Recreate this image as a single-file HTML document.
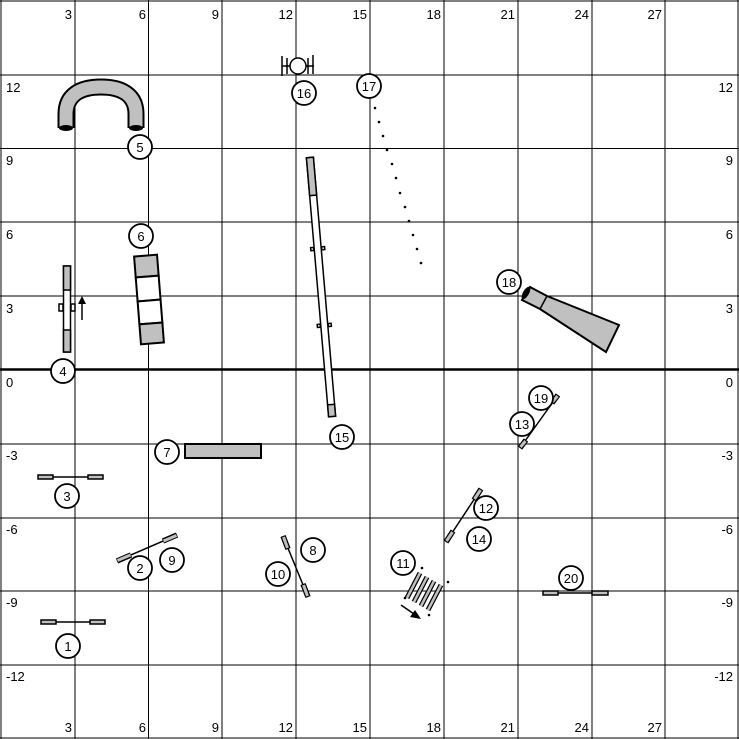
<!DOCTYPE html>
<html><head><meta charset="utf-8"><style>
html,body{margin:0;padding:0;background:#fff;}
svg{display:block;font-family:"Liberation Sans",sans-serif;}
</style></head><body>
<svg width="739" height="739" viewBox="0 0 739 739" xmlns="http://www.w3.org/2000/svg">
<rect x="0" y="0" width="739" height="739" fill="#fff"/>
<g stroke="#000" stroke-width="1">
<line x1="1" y1="0" x2="1" y2="739"/><line x1="75" y1="0" x2="75" y2="739"/><line x1="148.5" y1="0" x2="148.5" y2="739"/><line x1="222" y1="0" x2="222" y2="739"/><line x1="296" y1="0" x2="296" y2="739"/><line x1="370" y1="0" x2="370" y2="739"/><line x1="444" y1="0" x2="444" y2="739"/><line x1="518" y1="0" x2="518" y2="739"/><line x1="592" y1="0" x2="592" y2="739"/><line x1="665" y1="0" x2="665" y2="739"/><line x1="738" y1="0" x2="738" y2="739"/>
<line x1="0" y1="1" x2="739" y2="1"/><line x1="0" y1="75" x2="739" y2="75"/><line x1="0" y1="148.5" x2="739" y2="148.5"/><line x1="0" y1="222" x2="739" y2="222"/><line x1="0" y1="296" x2="739" y2="296"/><line x1="0" y1="444" x2="739" y2="444"/><line x1="0" y1="518" x2="739" y2="518"/><line x1="0" y1="591" x2="739" y2="591"/><line x1="0" y1="665" x2="739" y2="665"/><line x1="0" y1="738" x2="739" y2="738"/>
</g>
<line x1="0" y1="369.5" x2="739" y2="369.5" stroke="#000" stroke-width="2.5"/>
<g font-size="13" fill="#000" text-anchor="end">
<text x="72" y="19">3</text><text x="146" y="19">6</text><text x="219" y="19">9</text><text x="293" y="19">12</text><text x="367" y="19">15</text><text x="441" y="19">18</text><text x="515" y="19">21</text><text x="589" y="19">24</text><text x="662" y="19">27</text>
<text x="72" y="732">3</text><text x="146" y="732">6</text><text x="219" y="732">9</text><text x="293" y="732">12</text><text x="367" y="732">15</text><text x="441" y="732">18</text><text x="515" y="732">21</text><text x="589" y="732">24</text><text x="662" y="732">27</text>
</g>
<g font-size="13" fill="#000">
<text x="6" y="92">12</text><text x="6" y="165">9</text><text x="6" y="239">6</text><text x="6" y="313">3</text><text x="6" y="387">0</text><text x="6" y="460">-3</text><text x="6" y="534">-6</text><text x="6" y="607">-9</text><text x="6" y="681">-12</text>
</g>
<g font-size="13" fill="#000" text-anchor="end">
<text x="733" y="92">12</text><text x="733" y="165">9</text><text x="733" y="239">6</text><text x="733" y="313">3</text><text x="733" y="387">0</text><text x="733" y="460">-3</text><text x="733" y="534">-6</text><text x="733" y="607">-9</text><text x="733" y="681">-12</text>
</g>
<!-- tunnel 5 -->
<path d="M66,128 L66,114 C66,95 80,87 101,87 C122,87 136,95 136,114 L136,128" fill="none" stroke="#000" stroke-width="17"/>
<path d="M66,127 L66,114 C66,95 80,87 101,87 C122,87 136,95 136,114 L136,127" fill="none" stroke="#c0c0c0" stroke-width="13"/>
<ellipse cx="66" cy="128" rx="7" ry="3" fill="#000"/><ellipse cx="136" cy="128" rx="7" ry="3" fill="#000"/>
<!-- table/tire 6 -->
<g transform="translate(149,299.5) rotate(-4.5)" stroke="#000" stroke-width="2">
<rect x="-11.5" y="-44" width="23" height="21" fill="#c0c0c0"/><rect x="-11.5" y="-23" width="23" height="24" fill="#fff"/><rect x="-11.5" y="1" width="23" height="23" fill="#fff"/><rect x="-11.5" y="24" width="23" height="20" fill="#c0c0c0"/>
</g>
<!-- jump 4 -->
<g stroke="#000" stroke-width="1.5">
<rect x="63.5" y="266" width="7" height="86" fill="#fff"/><rect x="63.5" y="266" width="7" height="24" fill="#c0c0c0"/><rect x="63.5" y="330" width="7" height="22" fill="#c0c0c0"/>
<rect x="59" y="304" width="4" height="7" fill="#fff"/><rect x="71" y="304" width="4" height="7" fill="#fff"/>
<line x1="82" y1="320" x2="82" y2="302"/>
</g>
<polygon points="82,296 78,304 86,304" fill="#000"/>
<!-- jump 16 -->
<g stroke="#000" stroke-width="1.5" fill="#fff">
<line x1="282" y1="66" x2="314" y2="66"/><line x1="282" y1="56" x2="282" y2="76"/><line x1="313" y1="55" x2="313" y2="74"/><line x1="287" y1="58" x2="287" y2="74"/><line x1="308" y1="58" x2="308" y2="74"/>
<circle cx="298" cy="66" r="8"/>
</g>
<!-- dots 17 -->
<g fill="#000">
<circle cx="375" cy="108" r="1.3"/><circle cx="379" cy="122" r="1.3"/><circle cx="383" cy="136" r="1.3"/><circle cx="387" cy="150" r="1.3"/><circle cx="392" cy="164" r="1.3"/><circle cx="396" cy="178" r="1.3"/><circle cx="400" cy="193" r="1.3"/><circle cx="405" cy="207" r="1.3"/><circle cx="409" cy="221" r="1.3"/><circle cx="413" cy="235" r="1.3"/><circle cx="417" cy="249" r="1.3"/><circle cx="421" cy="263" r="1.3"/>
</g>
<!-- dogwalk 15 -->
<g transform="translate(321,287) rotate(-4.9)" stroke="#000" stroke-width="1.5">
<rect x="-3.5" y="-130" width="7" height="260" fill="#fff"/><rect x="-3.5" y="-130" width="7" height="38" fill="#c0c0c0"/><rect x="-3.5" y="118" width="7" height="12" fill="#c0c0c0"/>
<rect x="-7" y="-40" width="3" height="3" fill="#fff"/><rect x="-7" y="37" width="3" height="3" fill="#fff"/><rect x="4" y="37" width="3" height="3" fill="#fff"/><rect x="4" y="-40" width="3" height="3" fill="#fff"/>
</g>
<!-- chute 18 -->
<polygon points="530,287 547,296 619,325 606,352 540,309 522,300" fill="#c0c0c0" stroke="#000" stroke-width="2"/>
<line x1="547" y1="296" x2="540" y2="309" stroke="#000" stroke-width="1.5"/>
<ellipse cx="526" cy="293" rx="3" ry="7" transform="rotate(30 526 293)" fill="#000"/>
<!-- tunnel 7 -->
<rect x="185" y="444" width="76" height="14" fill="#c0c0c0" stroke="#000" stroke-width="2"/>
<!-- jumps -->
<g stroke="#000" stroke-width="1.5">
<line x1="38" y1="477" x2="103" y2="477"/><rect x="38" y="475" width="15" height="4" fill="#c0c0c0"/><rect x="88" y="475" width="15" height="4" fill="#c0c0c0"/>
<line x1="41" y1="622" x2="105" y2="622"/><rect x="41" y="620" width="15" height="4" fill="#c0c0c0"/><rect x="90" y="620" width="15" height="4" fill="#c0c0c0"/>
<line x1="543" y1="593" x2="608" y2="593"/><rect x="543" y="591" width="15" height="4" fill="#c0c0c0"/><rect x="592" y="591" width="16" height="4" fill="#c0c0c0"/>
<line x1="117" y1="561" x2="177" y2="535"/>
<line x1="283" y1="536" x2="308" y2="597"/>
<line x1="446" y1="542" x2="481" y2="489"/>
<line x1="520" y1="448" x2="558" y2="395"/>
</g>
<g stroke="#000" stroke-width="5.5" stroke-linecap="butt"><line x1="117" y1="561" x2="131" y2="555"/><line x1="163" y1="541" x2="177" y2="535"/><line x1="283" y1="536" x2="288" y2="549"/><line x1="303" y1="584" x2="308" y2="597"/><line x1="446" y1="542" x2="453" y2="531"/><line x1="474" y1="500" x2="481" y2="489"/><line x1="520" y1="448" x2="526" y2="440"/><line x1="552" y1="403" x2="558" y2="395"/></g>
<g stroke="#c0c0c0" stroke-width="3" stroke-linecap="butt"><line x1="117.5" y1="560.5" x2="130.5" y2="555"/><line x1="163.5" y1="541" x2="176.5" y2="535.5"/><line x1="283.5" y1="537" x2="287.5" y2="548"/><line x1="303.5" y1="585" x2="307.5" y2="596"/><line x1="446.5" y1="541" x2="452.5" y2="532"/><line x1="474.5" y1="499" x2="480.5" y2="490"/><line x1="520.5" y1="447" x2="525.5" y2="441"/><line x1="552.5" y1="402" x2="557.5" y2="396"/></g>
<!-- weaves 11 -->
<g stroke="#000" stroke-width="5"><line x1="420" y1="573" x2="407" y2="598"/><line x1="427" y1="577" x2="414" y2="602"/><line x1="434" y1="581" x2="421" y2="606"/><line x1="441" y1="585" x2="428" y2="610"/></g>
<g stroke="#c0c0c0" stroke-width="2.5"><line x1="420" y1="573" x2="407" y2="598"/><line x1="427" y1="577" x2="414" y2="602"/><line x1="434" y1="581" x2="421" y2="606"/><line x1="441" y1="585" x2="428" y2="610"/></g>
<g fill="#000"><circle cx="422" cy="568" r="1.3"/><circle cx="448" cy="582" r="1.3"/><circle cx="405" cy="598" r="1.3"/><circle cx="429" cy="615" r="1.3"/></g>
<line x1="401" y1="605" x2="414" y2="614" stroke="#000" stroke-width="1.5"/>
<polygon points="421,619 410,617 415,610" fill="#000"/>
<!-- number circles -->
<g stroke="#000" stroke-width="1.8" fill="#fff">
<circle cx="140" cy="147" r="12"/><circle cx="141" cy="236" r="12"/><circle cx="63" cy="371" r="12"/><circle cx="304" cy="93" r="12"/><circle cx="369" cy="86" r="12"/><circle cx="509" cy="282" r="12"/><circle cx="342" cy="437" r="12"/><circle cx="541" cy="398" r="12"/><circle cx="522" cy="424" r="12"/><circle cx="167" cy="452" r="12"/><circle cx="67" cy="496" r="12"/><circle cx="486" cy="508" r="12"/><circle cx="479" cy="539" r="12"/><circle cx="313" cy="550" r="12"/><circle cx="172" cy="560" r="12"/><circle cx="140" cy="568" r="12"/><circle cx="278" cy="574" r="12"/><circle cx="403" cy="563" r="12"/><circle cx="571" cy="578" r="12"/><circle cx="68" cy="646" r="12"/>
</g>
<g font-size="13" fill="#000" text-anchor="middle">
<text x="140" y="152">5</text><text x="141" y="241">6</text><text x="63" y="376">4</text><text x="304" y="98">16</text><text x="369" y="91">17</text><text x="509" y="287">18</text><text x="342" y="442">15</text><text x="541" y="403">19</text><text x="522" y="429">13</text><text x="167" y="457">7</text><text x="67" y="501">3</text><text x="486" y="513">12</text><text x="479" y="544">14</text><text x="313" y="555">8</text><text x="172" y="565">9</text><text x="140" y="573">2</text><text x="278" y="579">10</text><text x="403" y="568">11</text><text x="571" y="583">20</text><text x="68" y="651">1</text>
</g>
</svg>
</body></html>
